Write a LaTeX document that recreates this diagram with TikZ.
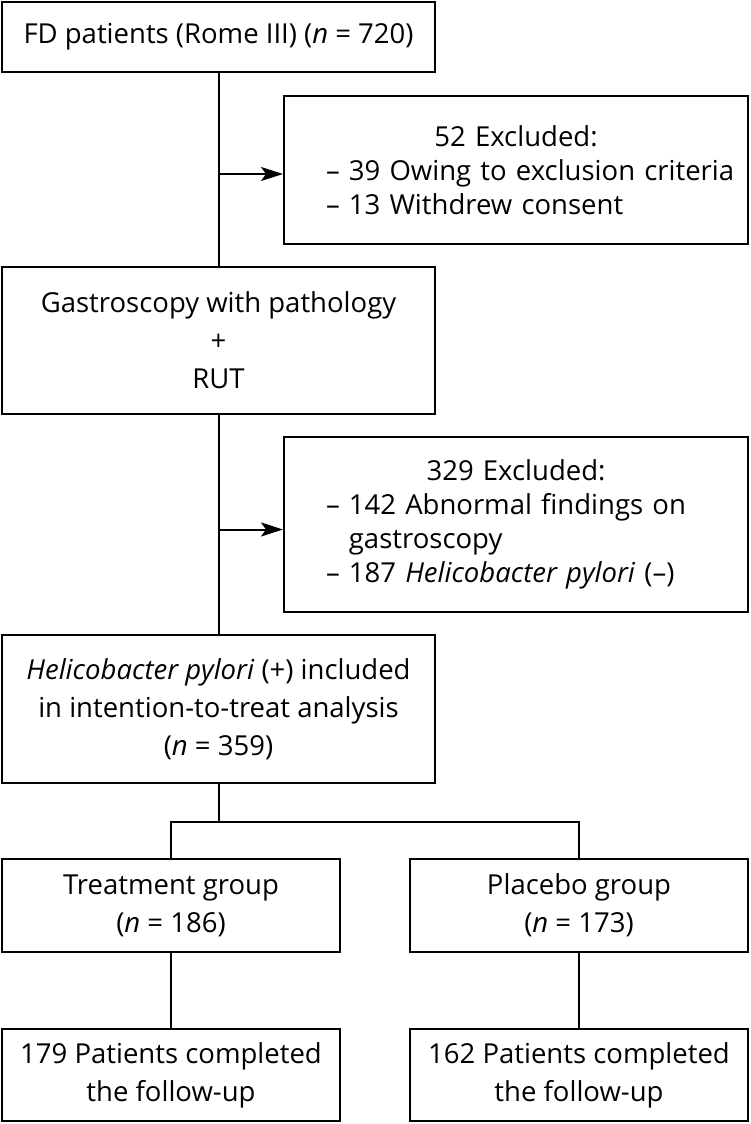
\documentclass[tikz,border=0pt]{standalone}
\usepackage{fontspec}
\setmainfont{Open Sans}
\usetikzlibrary{arrows.meta,calc}
\tikzset{
  box/.style={draw=black, line width=2pt, align=center, inner sep=0pt,
    font=\fontsize{27.5}{38}\selectfont},
  exbox/.style={draw=black, line width=2pt, align=left, inner xsep=42pt, inner ysep=0pt,
    text width=380pt, font=\fontsize{27.5}{34}\selectfont},
  conn/.style={line width=2pt, black},
  arr/.style={conn, -{Stealth[length=22pt,width=14pt,inset=5pt]}}
}
\begin{document}
\begin{tikzpicture}[x=1pt,y=-1pt]
\useasboundingbox (0,0) rectangle (750,1124);
\node[box, minimum width=433pt, minimum height=70pt] (b1) at (218.5,37) {FD patients (Rome III) (\textit{n} = 720)};
\node[exbox, minimum width=464pt, minimum height=148pt] (ex1) at (516,170) {\makebox[\linewidth]{52 Excluded:}\\ \mbox{– 39 Owing to exclusion criteria}\\ \mbox{– 13 Withdrew consent}};
\node[box, minimum width=433pt, minimum height=147pt] (b3) at (218.5,340.5) {Gastroscopy with pathology\\ +\\ RUT};
\node[exbox, minimum width=464pt, minimum height=175pt] (ex2) at (516,524.5) {\makebox[\linewidth]{329 Excluded:}\\ \mbox{– 142 Abnormal findings on}\\ \mbox{\phantom{– }gastroscopy}\\ \mbox{– 187 \textit{Helicobacter pylori} (–)}};
\node[box, minimum width=433pt, minimum height=148pt] (b5) at (218.5,709) {\textit{Helicobacter pylori} (+) included\\ in intention-to-treat analysis\\ (\textit{n} = 359)};
\node[box, minimum width=338pt, minimum height=93pt] (b6) at (171,905.5) {Treatment group\\ (\textit{n} = 186)};
\node[box, minimum width=338pt, minimum height=93pt] (b7) at (579,905.5) {Placebo group\\ (\textit{n} = 173)};
\node[box, minimum width=338pt, minimum height=92pt] (b8) at (171,1075) {179 Patients completed\\ the follow-up};
\node[box, minimum width=338pt, minimum height=92pt] (b9) at (579,1075) {162 Patients completed\\ the follow-up};
\draw[conn] (b1.south) -- (b3.north);
\draw[conn] (b3.south) -- (b5.north);
\coordinate (j1) at (b1.south |- ex1.west);
\coordinate (j2) at (b3.south |- ex2.west);
\draw[arr] ([yshift=-4pt]j1) -- ([yshift=-4pt]ex1.west);
\draw[arr] ([yshift=-5pt]j2) -- ([yshift=-5pt]ex2.west);
\coordinate (sp) at ($(b5.south)+(0,38)$);
\draw[conn] (b5.south) -- (sp);
\draw[conn] (b6.north) |- (sp) -| (b7.north);
\draw[conn] (b6.south) -- (b8.north);
\draw[conn] (b7.south) -- (b9.north);
\end{tikzpicture}
\end{document}
